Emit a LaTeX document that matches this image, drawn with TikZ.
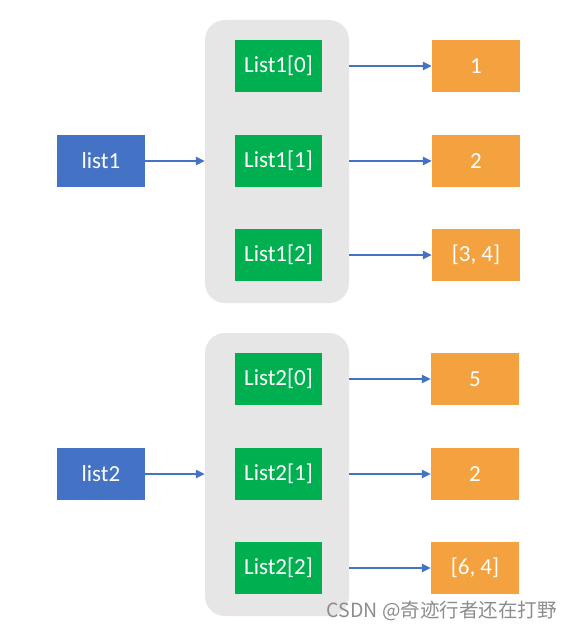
\documentclass[tikz,border=0pt]{standalone}
\usepackage{fontspec}
\setmainfont{Carlito}
\newfontfamily\cjk{Noto Sans CJK SC}
\usetikzlibrary{arrows.meta}
\definecolor{cblue}{HTML}{4472C4}
\definecolor{cgreen}{HTML}{00B050}
\definecolor{corange}{HTML}{F4A23F}
\definecolor{cgray}{HTML}{E6E6E6}
\tikzset{
  box/.style={minimum width=88pt,minimum height=52pt,inner sep=0pt,text=white,font=\fontsize{23}{26}\selectfont},
  varbox/.style={box,fill=cblue},
  elembox/.style={box,fill=cgreen,minimum width=87pt},
  valbox/.style={box,fill=corange},
  container/.style={fill=cgray,rounded corners=20pt,minimum width=144pt,minimum height=283pt,inner sep=0pt},
  conn/.style={draw=cblue,line width=2.2pt,-{Triangle[length=9pt,width=8pt]}}
}
\begin{document}
\begin{tikzpicture}[x=1pt,y=-1pt]
\useasboundingbox (0,0) rectangle (572,631);
% containers
\node[container] (c1) at (277,161.5) {};
\node[container] (c2) at (277,474.5) {};
% group 1
\node[varbox] (l1) at (101,161) {list1};
\node[elembox] (a0) at (278.5,66) {List1[0]};
\node[elembox] (a1) at (278.5,161) {List1[1]};
\node[elembox] (a2) at (278.5,255) {List1[2]};
\node[valbox] (v0) at (476,66) {1};
\node[valbox] (v1) at (476,161) {2};
\node[valbox] (v2) at (476,255) {[3, 4]};
\draw[conn] (l1.east) -- (l1.east -| c1.west);
\draw[conn] (a0.east -| c1.east) -- (v0.west);
\draw[conn] (a1.east -| c1.east) -- (v1.west);
\draw[conn] (a2.east -| c1.east) -- (v2.west);
% group 2
\node[varbox] (l2) at (101,474) {list2};
\node[elembox] (b0) at (278.5,379) {List2[0]};
\node[elembox] (b1) at (278.5,474) {List2[1]};
\node[elembox] (b2) at (278.5,568) {List2[2]};
\node[valbox] (w0) at (475,379) {5};
\node[valbox] (w1) at (475,474) {2};
\node[valbox] (w2) at (475,568) {[6, 4]};
\draw[conn] (l2.east) -- (l2.east -| c2.west);
\draw[conn] (b0.east -| c2.east) -- (w0.west);
\draw[conn] (b1.east -| c2.east) -- (w1.west);
\draw[conn] (b2.east -| c2.east) -- (w2.west);
% watermark
\node[text=black!45,font=\cjk\fontsize{19.5}{22}\selectfont,anchor=east,inner sep=0pt] (wm) at (557,611) {CSDN @奇迹行者还在打野};
\end{tikzpicture}
\end{document}
